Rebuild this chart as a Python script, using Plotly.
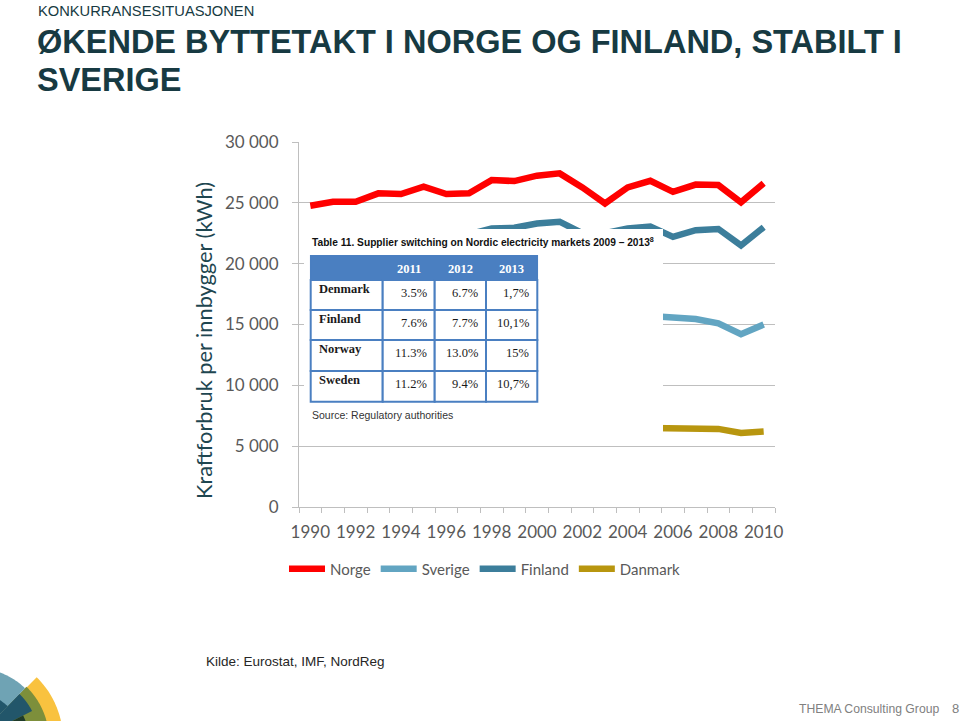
import numpy as np
import plotly.graph_objects as go

# Chart data (kWh per inhabitant)
years = list(range(1990, 2011))
norge = [24760, 25090, 25090, 25780, 25720, 26320, 25720, 25780, 26870, 26790, 27230,
         27420, 26270, 24950, 26270, 26810, 25900, 26500, 26460, 25050, 26600]
# earlier years of these series are hidden behind the inserted table
sverige = [None] * 15 + [15700, 15640, 15450, 15100, 14200, 15000]
finland = [None] * 7 + [22400, 22900, 22950, 23300, 23450, 22500, 22500, 22900,
                        23050, 22200, 22750, 22850, 21500, 23000]
danmark = [None] * 15 + [6500, 6500, 6500, 6420, 6080, 6200]

xtick_years = list(range(1990, 2011, 2))
ytick_vals = [0, 5000, 10000, 15000, 20000, 25000, 30000]

# Inserted table
table_years = ["2011", "2012", "2013"]
table_countries = ["Denmark", "Finland", "Norway", "Sweden"]
table_values = [["3.5%", "6.7%", "1,7%"],
                ["7.6%", "7.7%", "10,1%"],
                ["11.3%", "13.0%", "15%"],
                ["11.2%", "9.4%", "10,7%"]]

# Colours
C_NORGE = "#FF0000"
C_SVERIGE = "#62A5C2"
C_FINLAND = "#3C7E9B"
C_DANMARK = "#B8960F"
C_TITLE = "#173A42"
C_GRID = "#BFBFBF"
C_TICK = "#595959"
C_TABLE = "#4A7FC1"

W, H = 960, 721
L, R, T, B = 299, 185, 142, 214
PW, PH = W - L - R, H - T - B
BOTTOM = H - B


def pp(px, py):
    """pixel position -> paper coords"""
    return (px - L) / PW, (BOTTOM - py) / PH


fig = go.Figure()
for name, vals, col in [("Norge", norge, C_NORGE), ("Sverige", sverige, C_SVERIGE),
                        ("Finland", finland, C_FINLAND), ("Danmark", danmark, C_DANMARK)]:
    fig.add_trace(go.Scatter(x=years, y=vals, mode="lines", name=name,
                             line=dict(color=col, width=6.5), connectgaps=False))

shapes = []
annotations = []

# white patch of the pasted table covering the chart
x0, y0 = pp(304, 229)
x1, y1 = pp(663, 438)
shapes.append(dict(type="rect", xref="paper", yref="paper", x0=x0, y0=y1, x1=x1, y1=y0,
                   fillcolor="white", line=dict(width=0), layer="above"))

# table grid
col_x = [310.7, 382.7, 434.7, 486, 537.3]
row_y = [255.7, 280, 310, 340, 371, 401.7]
hx0, hy0 = pp(col_x[0], row_y[0])
hx1, hy1 = pp(col_x[-1], row_y[1])
shapes.append(dict(type="rect", xref="paper", yref="paper", x0=hx0, y0=hy1, x1=hx1, y1=hy0,
                   fillcolor=C_TABLE, line=dict(color=C_TABLE, width=1.5), layer="above"))
for i in range(len(table_countries)):
    for j in range(4):
        cx0, cy0 = pp(col_x[j], row_y[i + 1])
        cx1, cy1 = pp(col_x[j + 1], row_y[i + 2])
        shapes.append(dict(type="rect", xref="paper", yref="paper", x0=cx0, y0=cy1, x1=cx1, y1=cy0,
                           fillcolor="white", line=dict(color=C_TABLE, width=2), layer="above"))

for j, yr in enumerate(table_years):
    ax, ay = pp((col_x[j + 1] + col_x[j + 2]) / 2, (row_y[0] + row_y[1]) / 2 + 1)
    annotations.append(dict(x=ax, y=ay, xref="paper", yref="paper", text="<b>%s</b>" % yr,
                            showarrow=False, xanchor="center", yanchor="middle",
                            font=dict(family="Liberation Serif", size=12.5, color="white")))
for i, country in enumerate(table_countries):
    ax, ay = pp(col_x[0] + 6, row_y[i + 1] + 9)
    annotations.append(dict(x=ax, y=ay, xref="paper", yref="paper", text="<b>%s</b>" % country,
                            showarrow=False, xanchor="left", yanchor="middle",
                            font=dict(family="Liberation Serif", size=12.5, color="#1A1A1A")))
    for j, v in enumerate(table_values[i]):
        ax, ay = pp(col_x[j + 2] - 6, row_y[i + 1] + 13)
        annotations.append(dict(x=ax, y=ay, xref="paper", yref="paper", text=v,
                                showarrow=False, xanchor="right", yanchor="middle",
                                font=dict(family="Liberation Serif", size=12.5, color="#1A1A1A")))

ax, ay = pp(310, 241.7)
annotations.append(dict(x=ax, y=ay, xref="paper", yref="paper",
                        text="<b>Table 11. Supplier switching on Nordic electricity markets 2009 – 2013<sup>8</sup></b>",
                        showarrow=False, xanchor="left", yanchor="middle",
                        font=dict(family="Liberation Sans", size=10.2, color="#111111")))
ax, ay = pp(310, 414.5)
annotations.append(dict(x=ax, y=ay, xref="paper", yref="paper", text="Source: Regulatory authorities",
                        showarrow=False, xanchor="left", yanchor="middle",
                        font=dict(family="Liberation Sans", size=10.5, color="#333333")))

# slide texts
ax, ay = pp(36, 11)
annotations.append(dict(x=ax, y=ay, xref="paper", yref="paper", text="KONKURRANSESITUASJONEN",
                        showarrow=False, xanchor="left", yanchor="middle",
                        font=dict(family="Liberation Sans", size=14.7, color=C_TITLE)))
for line_txt, cy in [("ØKENDE BYTTETAKT I NORGE OG FINLAND, STABILT I", 42), ("SVERIGE", 80)]:
    ax, ay = pp(35, cy)
    annotations.append(dict(x=ax, y=ay, xref="paper", yref="paper", text="<b>%s</b>" % line_txt,
                            showarrow=False, xanchor="left", yanchor="middle",
                            font=dict(family="Liberation Sans", size=32.5, color=C_TITLE)))
ax, ay = pp(203, 341)
annotations.append(dict(x=ax, y=ay, xref="paper", yref="paper", text="Kraftforbruk per innbygger (kWh)",
                        showarrow=False, textangle=-90, xanchor="center", yanchor="middle",
                        font=dict(family="Lato", size=21.8, color="#1E4650")))
ax, ay = pp(204, 661)
annotations.append(dict(x=ax, y=ay, xref="paper", yref="paper", text="Kilde: Eurostat, IMF, NordReg",
                        showarrow=False, xanchor="left", yanchor="middle",
                        font=dict(family="Liberation Sans", size=13.5, color="#262626")))
ax, ay = pp(941, 709)
annotations.append(dict(x=ax, y=ay, xref="paper", yref="paper", text="THEMA Consulting Group",
                        showarrow=False, xanchor="right", yanchor="middle",
                        font=dict(family="Liberation Sans", size=12.2, color="#808080")))
ax, ay = pp(955, 708)
annotations.append(dict(x=ax, y=ay, xref="paper", yref="paper", text="8",
                        showarrow=False, xanchor="center", yanchor="middle",
                        font=dict(family="Liberation Sans", size=13, color="#808080")))


# logo in the bottom-left corner
def wedge(cx, cy, r, a0, a1, n=40):
    ang = np.radians(np.linspace(a0, a1, n))
    pts = [pp(cx, cy)] + [pp(cx + r * np.cos(a), cy - r * np.sin(a)) for a in ang]
    return "M " + " L ".join("%.5f,%.5f" % p for p in pts) + " Z"


logo = [(88, -20, 45.5, "#F9C23F"), (74, -20, 46, "#7D8F3B"), (72, 46, 110, "#6FA3B4"),
        (64, 27, 46, "#22566A"), (47, 46, 110, "#22566A"), (54, -20, 27, "#1F3B29")]
for r, a0, a1, col in logo:
    shapes.append(dict(type="path", xref="paper", yref="paper", path=wedge(-25, 740, r, a0, a1),
                       fillcolor=col, line=dict(width=0), layer="above"))

fig.update_layout(
    width=W, height=H,
    margin=dict(l=L, r=R, t=T, b=B),
    paper_bgcolor="white", plot_bgcolor="white",
    separators=", ",
    font=dict(family="Lato", color=C_TICK),
    shapes=shapes, annotations=annotations,
    showlegend=True,
    legend=dict(orientation="h", x=pp(284, 0)[0], y=pp(0, 569)[1], xanchor="left", yanchor="middle",
                font=dict(family="Lato", size=15, color=C_TICK), itemwidth=36,
                tracegroupgap=0, bgcolor="rgba(0,0,0,0)"),
)
fig.update_xaxes(range=[1989.5, 2010.5], tickvals=xtick_years, ticks="", showgrid=False,
                 showline=True, linecolor=C_GRID, linewidth=1, zeroline=False,
                 tickfont=dict(family="Lato", size=17, color=C_TICK), ticklabelstandoff=10,
                 minor=dict(ticks="outside", tick0=1989.5, dtick=1, ticklen=5, tickcolor=C_GRID,
                            showgrid=False))
fig.update_yaxes(range=[0, 30000], tickvals=ytick_vals, tickformat=",.0f", showgrid=True,
                 gridcolor=C_GRID, gridwidth=1, showline=True, linecolor=C_GRID, linewidth=1,
                 zeroline=False, ticks="outside", ticklen=6, tickcolor=C_GRID,
                 tickfont=dict(family="Lato", size=17, color=C_TICK), ticklabelstandoff=10)

# the page's default body margin would shift the slide by 8 px
fig.write_html("out.html", config={"displayModeBar": False},
               post_script="document.body.style.margin='0';")
